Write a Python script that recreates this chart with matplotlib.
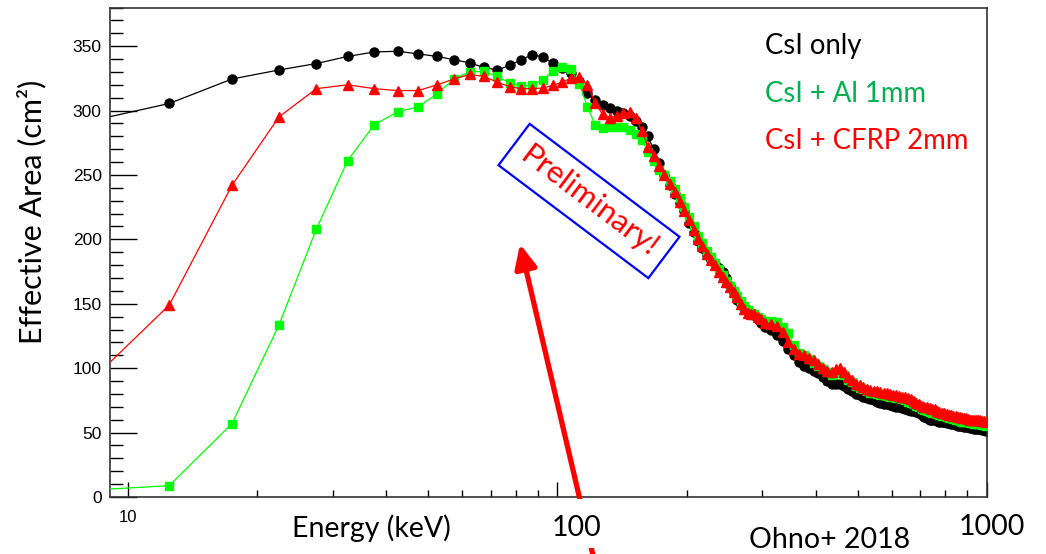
import matplotlib.pyplot as plt
from matplotlib.patches import FancyArrowPatch, Rectangle
from matplotlib.ticker import MultipleLocator, LogLocator, NullFormatter

# Energy bin centres (keV)
energy = [7.5, 12.5, 17.5, 22.5, 27.5, 32.5, 37.5, 42.5, 47.5, 52.5,
          57.5, 62.5, 67.5, 72.5, 77.5, 82.5, 87.5, 92.5, 97.5, 102.5,
          107.5, 112.5, 117.5, 122.5, 127.5, 132.5, 137.5, 142.5, 147.5, 152.5,
          157.5, 162.5, 167.5, 172.5, 177.5, 182.5, 187.5, 192.5, 197.5, 202.5,
          207.5, 212.5, 217.5, 222.5, 227.5, 232.5, 237.5, 242.5, 247.5, 252.5,
          257.5, 262.5, 267.5, 272.5, 277.5, 282.5, 287.5, 292.5, 297.5,
          305, 315, 325, 335, 345, 355, 365, 375, 385, 395,
          405, 415, 425, 435, 445, 455, 465, 475, 485, 495,
          505, 515, 525, 535, 545, 555, 565, 575, 585, 595,
          605, 615, 625, 635, 645, 655, 665, 675, 685, 695,
          705, 715, 725, 735, 745, 755, 765, 775, 785, 795,
          805, 815, 825, 835, 845, 855, 865, 875, 885, 895,
          905, 915, 925, 935, 945, 955, 965, 975, 985, 995]

# Effective area (cm^2)
csi_only = [289, 305.5, 324.5, 331.5, 336.5, 342, 345.5, 346, 344, 342,
            339.5, 337, 333.5, 331.5, 335, 339.5, 343.5, 341.5, 337, 333,
            329.5, 323, 314, 308, 304.5, 302, 300, 298, 295.5, 292,
            287, 280, 270, 259, 250, 242, 235, 228, 222, 213,
            206, 199, 193, 188, 184, 181, 178, 175, 170, 164,
            158, 153, 150, 147, 145, 143, 141, 138, 135,
            132, 130, 126, 121, 115, 110, 105, 102, 100, 98,
            96, 93, 90, 88, 88, 88, 86, 84, 82, 80,
            79, 78, 77, 76, 75, 74, 73, 72.5, 72, 71.5,
            71, 70, 69.5, 69, 68.5, 67.5, 67, 66.5, 66, 65,
            63.5, 62, 61, 60, 59.5, 59.5, 59, 58.5, 58, 58,
            57.5, 57.5, 57, 56.5, 56, 55.5, 55, 55, 54.5, 54,
            54, 53.5, 53.5, 53, 53, 52.5, 52.5, 52, 52, 51.5]

csi_al = [4.6, 8.8, 57, 133.5, 208, 261, 289, 299, 303, 313,
          324.5, 330, 330.5, 326.5, 321.5, 319, 319.5, 324, 330.5, 334,
          332, 321, 303, 289, 286.5, 287, 287.5, 287, 285, 281.5,
          277, 268, 261, 254, 250, 245, 239, 232, 225, 217,
          210, 203, 197, 191, 186, 182, 177, 172, 168, 164,
          160, 156, 152, 148, 145, 143, 142, 140, 138,
          137, 137, 136, 132, 127, 118, 112, 110, 107, 104,
          102, 99, 97, 95, 96, 97, 95, 91, 89, 86,
          85, 83.5, 82, 81, 80.5, 80, 79.5, 79, 78.5, 78,
          77.5, 77, 76.5, 76, 75, 74, 73, 72, 71, 69.5,
          68.5, 67.5, 66.5, 66, 65.5, 65, 64.5, 64, 63, 62.5,
          62, 61.5, 61, 60.5, 60, 59.5, 59, 58.5, 58.5, 58,
          58, 57.5, 57.5, 57, 57, 56.5, 56.5, 56, 56, 55.5]

csi_cfrp = [77.5, 149, 242, 295, 317, 320, 317, 315.5, 315.5, 320,
            324.5, 328, 326.5, 322, 318.5, 317, 317, 317.5, 319.5, 322,
            325, 326, 320, 306, 297, 294.5, 296, 298, 298.5, 294,
            284, 272, 265, 257, 250, 243, 237, 229, 222, 215,
            207, 200, 195, 189, 184, 180, 175, 171, 167, 163,
            159, 155, 150, 146, 143, 142, 142, 140, 138,
            135, 134, 133, 128, 120, 115, 111, 110, 108, 106,
            103, 100, 98, 97, 99, 100, 97, 93, 91, 88,
            87, 85.5, 84, 83, 82.5, 82, 81.5, 81, 80.5, 80,
            79.5, 79, 78.5, 78, 77.5, 77, 76, 74.5, 73, 72,
            71, 70, 69.5, 69, 68.5, 68, 67, 66, 65.5, 65,
            64.5, 64, 63.5, 63, 62.5, 62, 62, 61.5, 61, 61,
            60.5, 60, 60, 60, 59.5, 59.5, 59.5, 59, 59, 58.5]

labels = ['CsI only', 'CsI + Al 1mm', 'CsI + CFRP 2mm']
label_colors = ['black', '#00b050', '#ff0000']

W, H = 1046, 554
fig = plt.figure(figsize=(W / 100, H / 100), dpi=100)
ax = fig.add_axes([110 / W, 57 / H, 877 / W, 489.5 / H])

calibri_like = ['Lato', 'DejaVu Sans']

ax.plot(energy, csi_only, color='black', lw=0.9, marker='o', ms=6.5, zorder=2)
ax.plot(energy, csi_al, color='#00ff00', lw=0.9, marker='s', ms=6, zorder=3)
ax.plot(energy, csi_cfrp, color='#ff0000', lw=0.9, marker='^', ms=6.5, zorder=4)

ax.set_xscale('log')
ax.set_xlim(9.1, 1000)
ax.set_ylim(0, 380)

ax.yaxis.set_major_locator(MultipleLocator(50))
ax.yaxis.set_minor_locator(MultipleLocator(10))
ax.set_yticks([0, 50, 100, 150, 200, 250, 300, 350])
ax.tick_params(axis='y', which='major', direction='in', length=19.5, width=1,
               labelsize=12.5, pad=6, right=False)
ax.tick_params(axis='y', which='minor', direction='in', length=9.7, width=1, right=False)
for lab in ax.get_yticklabels():
    lab.set_fontfamily('Liberation Sans')

ax.xaxis.set_major_locator(LogLocator(base=10))
ax.xaxis.set_minor_locator(LogLocator(base=10, subs=range(2, 10)))
ax.xaxis.set_minor_formatter(NullFormatter())
ax.set_xticks([10, 100, 1000])
ax.set_xticklabels(['10', '', ''], fontfamily='Liberation Sans', fontsize=12)
ax.tick_params(axis='x', which='major', direction='in', length=10.5, width=1, pad=9, top=False)
ax.tick_params(axis='x', which='minor', direction='in', length=5.3, width=1, top=False)

for side in ['left', 'bottom', 'top', 'right']:
    ax.spines[side].set_color('#333333')
    ax.spines[side].set_linewidth(1.2)

# axis titles
fig.text(32 / W, 1 - 212 / H, 'Effective Area (cm²)', rotation=90, ha='center', va='center',
         fontsize=22, family=calibri_like)

# red arrow, partly hidden behind the label box
arrow = FancyArrowPatch((594 / W, -0.01), (520 / W, 1 - 244 / H), transform=fig.transFigure,
                        arrowstyle='-|>,head_length=0.65,head_width=0.3', mutation_scale=22,
                        color='#ff0000', lw=3.8, shrinkA=0, shrinkB=0, zorder=5)
fig.patches.append(arrow)
fig.patches.append(Rectangle((535 / W, 1 - 548 / H), 115 / W, 49 / H, transform=fig.transFigure,
                             fc='white', ec='none', zorder=6))

fig.text(371 / W, 1 - 528 / H, 'Energy (keV)', ha='center', va='center', fontsize=20.5,
         family=calibri_like, zorder=7)
fig.text(577 / W, 1 - 528 / H, '100', ha='center', va='center', fontsize=20.5,
         family=calibri_like, zorder=7)
fig.text(992 / W, 1 - 527 / H, '1000', ha='center', va='center', fontsize=20.5,
         family=calibri_like, zorder=7)
fig.text(830 / W, 1 - 540 / H, 'Ohno+ 2018', ha='center', va='center', fontsize=20.5,
         family=calibri_like, zorder=7)

# legend as coloured text
for i, (lab, col) in enumerate(zip(labels, label_colors)):
    fig.text(765 / W, 1 - (46 + 47.5 * i) / H, lab, color=col, ha='left', va='center',
             fontsize=19.8, family=calibri_like)

fig.text(589 / W, 1 - 201 / H, 'Preliminary!', color='#ff0000', rotation=-37,
         rotation_mode='anchor', ha='center', va='center', fontsize=22.5, family=calibri_like,
         bbox=dict(boxstyle='square,pad=0.38', fc='none', ec='#0000ff', lw=1.6))

fig.savefig('out.png', dpi=100, facecolor='white')
